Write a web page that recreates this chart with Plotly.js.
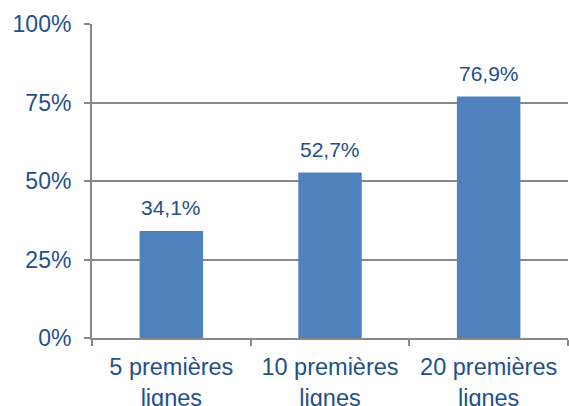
<!DOCTYPE html>
<html>
<head>
<meta charset="utf-8">
<script src="https://cdn.plot.ly/plotly-3.0.1.min.js"></script>
<style>html,body{margin:0;padding:0;background:#fff;}#chart{width:569px;height:406px;}</style>
</head>
<body>
<div id="chart"></div>
<script>
const categories = ["5 premières<br>lignes", "10 premières<br>lignes", "20 premières<br>lignes"];
const values = [34.1, 52.7, 76.9];
const valueLabels = ["34,1%", "52,7%", "76,9%"];
const yTicks = [0, 25, 50, 75, 100];
const yTickLabels = ["0%", "25%", "50%", "75%", "100%"];

const textColor = "#24508A";
const gridColor = "#888888";

const trace = {
  type: "bar",
  x: categories,
  y: values,
  marker: {color: "#4F81BD"},
  width: 0.4,
  hoverinfo: "none"
};

const annotations = categories.map((c, i) => ({
  x: c, y: values[i], xref: "x", yref: "y",
  text: valueLabels[i], showarrow: false,
  yanchor: "bottom", yshift: 10,
  font: {family: "Liberation Sans, Arial, sans-serif", size: 21, color: textColor}
}));

const layout = {
  width: 569, height: 406,
  margin: {l: 92, r: 1, t: 24, b: 68},
  paper_bgcolor: "#fff", plot_bgcolor: "#fff",
  showlegend: false,
  font: {family: "Liberation Sans, Arial, sans-serif", size: 22, color: textColor},
  xaxis: {
    type: "category",
    range: [-0.5, 2.5],
    showline: true, linecolor: gridColor, linewidth: 2,
    ticks: "outside", tickson: "boundaries", ticklen: 6, tickwidth: 2, tickcolor: gridColor,
    showgrid: false, zeroline: false,
    ticklabelstandoff: 7,
    tickfont: {size: 23.5, color: textColor}
  },
  yaxis: {
    range: [0, 100],
    tickvals: yTicks, ticktext: yTickLabels,
    showline: true, linecolor: gridColor, linewidth: 2,
    ticks: "outside", ticklen: 6, tickwidth: 2, tickcolor: gridColor,
    showgrid: true, gridcolor: gridColor, gridwidth: 2,
    zeroline: false,
    ticklabelstandoff: 8,
    tickfont: {size: 23, color: textColor}
  },
  annotations: annotations
};

Plotly.newPlot("chart", [trace], layout, {displayModeBar: false, staticPlot: true});
</script>
</body>
</html>
